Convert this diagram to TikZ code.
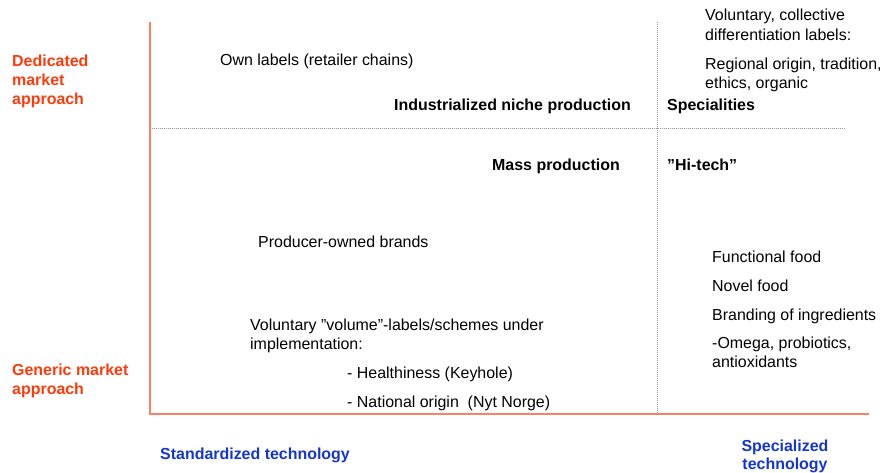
\documentclass[tikz,border=0pt]{standalone}
\usepackage{fontspec}
\setmainfont{Liberation Sans}
\definecolor{axisor}{HTML}{FF7F62}
\definecolor{labor}{HTML}{FF3A0A}
\definecolor{labblue}{HTML}{1535D0}
\begin{document}
\begin{tikzpicture}[x=1pt,y=-1pt,
  txt/.style={anchor=base west,inner sep=0pt,font=\fontsize{15.95}{19}\selectfont},
  txtr/.style={anchor=base east,inner sep=0pt,font=\fontsize{15.95}{19}\selectfont},
  btxt/.style={txt,font=\fontsize{15.95}{19}\selectfont\bfseries},
  btxtr/.style={txtr,font=\fontsize{15.95}{19}\selectfont\bfseries},
  ortxt/.style={btxt,text=labor},
  bltxt/.style={btxt,text=labblue},
  axis/.style={draw=axisor,line width=1.5pt},
  sep/.style={draw=gray!80,line width=0.8pt,dash pattern=on 0.8pt off 1.2pt}]
\useasboundingbox (0,0) rectangle (882,472);
% axes
\coordinate (top) at (150,22);
\coordinate (origin) at (150,414);
\coordinate (xend) at (869,414);
\coordinate (mtop) at (657,22);
\coordinate (mbot) at (657,414);
\coordinate (hl) at (150,128);
\coordinate (hr) at (845,128);
\draw[sep] (mtop) -- (mbot);
\draw[sep] (hl) -- (hr);
\draw[axis] (top) -- (origin) -- (xend);
% left labels
\node[ortxt] (d1) at (12,66) {Dedicated};
\node[ortxt] (d2) at (12,85) {market};
\node[ortxt] (d3) at (12,104) {approach};
\node[ortxt] (g1) at (12,375) {Generic market};
\node[ortxt] (g2) at (12,394) {approach};
% bottom labels
\node[bltxt] (st) at (160,459) {Standardized technology};
\node[bltxt,anchor=base] (sp1) at (785,451) {Specialized};
\node[bltxt,anchor=base] (sp2) at (785,469) {technology};
% quadrant headings
\node[btxtr] (inp) at (631,110) {Industrialized niche production};
\node[btxtr] (mp) at (620,170) {Mass production};
\node[btxt] (spc) at (667,110) {Specialities};
\node[btxt] (ht) at (667,170) {”Hi-tech”};
% contents
\node[txt] (own) at (220,65) {Own labels (retailer chains)};
\node[txt] (v1) at (705,20) {Voluntary, collective};
\node[txt] (v2) at (705,40) {differentiation labels:};
\node[txt] (r1) at (705,69) {Regional origin, tradition,};
\node[txt] (r2) at (705,88) {ethics, organic};
\node[txt] (pob) at (258,247) {Producer-owned brands};
\node[txt] (vv1) at (250,330) {Voluntary ”volume”-labels/schemes under};
\node[txt] (vv2) at (250,349) {implementation:};
\node[txt] (hk) at (347,378) {- Healthiness (Keyhole)};
\node[txt] (no) at (347,407) {- National origin\ \ (Nyt Norge)};
\node[txt] (ff) at (712,262) {Functional food};
\node[txt] (nf) at (712,291) {Novel food};
\node[txt] (bi) at (712,320) {Branding of ingredients};
\node[txt] (om1) at (712,348) {-Omega, probiotics,};
\node[txt] (om2) at (712,367) {antioxidants};
\end{tikzpicture}
\end{document}
